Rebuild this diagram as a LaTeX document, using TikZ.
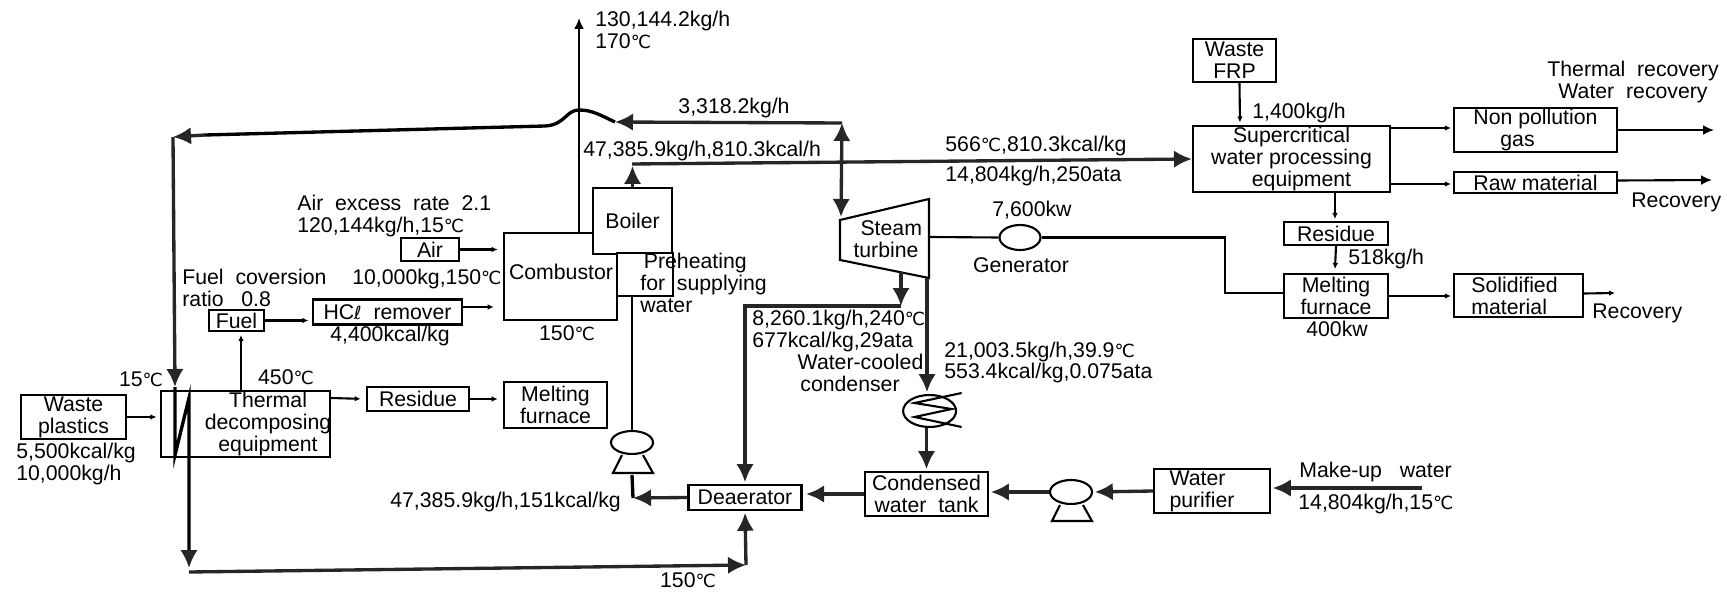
\documentclass[tikz,border=0pt]{standalone}
\usepackage{fontspec}
\setmainfont{Liberation Sans}
\newfontfamily\symbfont{DejaVu Sans}[Scale=0.85]
\newcommand{\degc}{{\symbfont ℃}}
\newcommand{\litre}{{\symbfont ℓ}}
\usetikzlibrary{arrows.meta,positioning,calc,shapes.geometric}

\begin{document}
\begin{tikzpicture}[
    x=0.02cm, y=-0.02cm,
    every node/.style={font=\fontsize{12.1}{12.5}\selectfont},
    box/.style={draw, line width=1.2pt, fill=white, inner sep=0pt, align=center},
    vessel/.style={draw, ellipse, line width=1.2pt, inner sep=0pt},
    lbl/.style={inner sep=0pt, align=left, anchor=west},
    mid/.style={inner sep=0pt, align=center},
    pipe/.style={line width=1.9pt},
    flow/.style={line width=1.2pt},
    bigarr/.style={-{Latex[length=.36cm,width=.35cm]}, pipe, color=black!85},
    midarr/.style={-{Latex[length=.22cm,width=.2cm]}, flow},
    arr/.style={-{Latex[length=.12cm,width=.11cm]}, flow}
]
\useasboundingbox (0,0) rectangle (1727,594);

\node[box, minimum width=2.1cm, minimum height=.88cm] (wasteplastics) at (73.5,417) {Waste\\plastics};
\node[box, minimum width=3.38cm, minimum height=1.32cm] (thermal) at (245.5,424) {};
\node[mid] (thermaltext) at (268,424) {Thermal\\decomposing\\equipment};
\node[box, minimum width=1.1cm, minimum height=.42cm] (fuel) at (236.5,320.5) {Fuel};
\node[box, minimum width=2.98cm, minimum height=.5cm] (hclremover) at (387.5,312) {HC\litre{} \ remover};
\node[box, minimum width=1.16cm, minimum height=.46cm] (air) at (430,249.5) {Air};
\node[box, minimum width=2.26cm, minimum height=1.74cm] (combustor) at (560.5,276.5) {};
\node[mid] (combustortext) at (561,272) {Combustor};
\node[box, minimum width=1.58cm, minimum height=1.32cm] (boiler) at (632.5,221) {Boiler};
\node[box, minimum width=1.12cm, minimum height=.86cm] (preheat) at (645,274.5) {};
\node[lbl] (preheattext) at (640,283) {\hspace*{2pt}Preheating\\for \ supplying\\water};
\node[box, minimum width=2.04cm, minimum height=.48cm] (residuea) at (418,399) {Residue};
\node[box, minimum width=2.06cm, minimum height=.92cm] (meltinga) at (555.5,405) {Melting\\furnace};
\node[box, minimum width=2.26cm, minimum height=.5cm] (deaerator) at (745,497.5) {Deaerator};
\node[box, minimum width=2.46cm, minimum height=.88cm] (tank) at (926.5,494) {Condensed\\water \ tank};
\node[box, minimum width=2.32cm, minimum height=.88cm, align=left] (purifier) at (1212,491) {Water\\purifier\hspace*{.4cm}};
\node[box, minimum width=1.66cm, minimum height=.86cm] (wastefrp) at (1234.5,60.5) {Waste\\FRP};
\node[box, minimum width=3.94cm, minimum height=1.32cm] (supercritical) at (1291.5,159) {Supercritical\\water processing\\\hspace*{.4cm}equipment};
\node[box, minimum width=3.26cm, minimum height=.88cm] (nonpollution) at (1535.5,130) {Non pollution\\gas\hspace*{.72cm}};
\node[box, minimum width=3.26cm, minimum height=.42cm] (rawmaterial) at (1535.5,182.5) {Raw material};
\node[box, minimum width=2.08cm, minimum height=.46cm] (residueb) at (1336,233.5) {Residue};
\node[box, minimum width=2.08cm, minimum height=.88cm] (meltingb) at (1336,296) {Melting\\furnace};
\node[box, minimum width=2.58cm, minimum height=.86cm, align=left] (solidified) at (1518.5,295.5) {Solidified\hspace*{.16cm}\\material};

\node[vessel, minimum width=.84cm, minimum height=.46cm] (pumpa) at (632,442.5) {};
\node[vessel, minimum width=.84cm, minimum height=.48cm] (pumpb) at (1071,492) {};
\node[vessel, minimum width=.82cm, minimum height=.5cm] (generator) at (1020,237.5) {};
\node[vessel, minimum width=1.06cm, minimum height=.64cm] (condenser) at (929.6,411) {};

\draw[box] ($(pumpa.south)+(-10,0)$) -- ($(pumpa.south)+(-19,18)$) -- ($(pumpa.south)+(21,18)$) -- ($(pumpa.south)+(11,0)$);
\draw[box] ($(pumpb.south)+(-11,0)$) -- ($(pumpb.south)+(-19,16)$) -- ($(pumpb.south)+(21,16)$) -- ($(pumpb.south)+(12,0)$);
\draw[flow] ($(condenser)+(32,-18)$) -- ($(condenser)+(-15,-8)$) -- ($(condenser)+(22,-2)$) -- ($(condenser)+(-15,6)$) -- ($(condenser)+(32,16)$);
\draw[box] (840,220) -- (929,199) -- (929,278) -- (840,260) -- cycle;
\node[mid] (turbinetext) at (886,239.5) {\hspace*{6pt}Steam\\turbine};

\coordinate (junction) at (842,123);
\coordinate (stack) at (579,18);
\coordinate (fuelin) at (241,335);
\coordinate (steamtee) at (632,164);
\coordinate (humpend) at (615,122);
\coordinate (returncorner) at (173,137);
\coordinate (coilin) at (175,387);
\coordinate (coilout) at (189,568);
\coordinate (bottomleft) at (189,572);
\coordinate (bottomright) at (746,565);
\coordinate (turbinein) at (841,217);
\coordinate (turbineout) at (901,272);
\coordinate (turbinetee) at (901,306);
\coordinate (turbinecond) at (927,278);
\coordinate (pumpafoot) at (632,475);
\coordinate (pumpaelbow) at (633,498);
\coordinate (makeup) at (1422,488);
\coordinate (genline) at (1225,293);

\draw[midarr] (stack |- combustor.north) -- (stack);
\draw[bigarr] (junction) -- (humpend);
\draw[pipe] (humpend) .. controls (600,115) and (592,110) .. (579,110) .. controls (566,110) and (565,125) .. (545,126) -- (205,135);
\draw[bigarr] (205,135) -- (returncorner);
\draw[bigarr] (returncorner) -- (coilin);
\draw[pipe] (coilin) -- (175,455) -- (189,398) -- (189,555);
\draw[bigarr] (189,550) -- (coilout);
\draw[bigarr] (bottomleft) -- (bottomright);
\draw[bigarr, shorten >=1pt] (bottomright) -- (deaerator.south);
\draw[bigarr] (boiler.north) -- ++(0,-21);
\draw[bigarr] (steamtee) -- (supercritical.west);
\draw[bigarr, {Latex[length=.36cm,width=.35cm]}-{Latex[length=.36cm,width=.35cm]}] (junction) -- (turbinein);
\draw[bigarr] (turbineout) -- (turbinetee);
\draw[bigarr, shorten >=1pt] (turbinetee) -| (deaerator.north);
\draw[bigarr, shorten >=1pt] (turbinecond) -- (turbinecond |- condenser.north);
\draw[bigarr, shorten >=1pt] (tank.north |- condenser.south) -- (tank.north);
\draw[bigarr, shorten >=2pt] (tank.west) -- (tank.west -| deaerator.east);
\draw[bigarr, shorten >=1pt] (pumpb.west) -- (pumpb.west -| tank.east);
\draw[bigarr, shorten >=1pt] (purifier.west) -- (pumpb.east);
\draw[bigarr, shorten >=1pt] (makeup) -- (makeup -| purifier.east);
\draw[pipe] (pumpafoot) -- (pumpaelbow);
\draw[bigarr] (deaerator.west) -- (pumpaelbow);
\draw[line width=1.5pt] (pumpa.north |- preheat.south) -- (pumpa.north);
\draw[flow] (929,237) -- (generator.west);
\draw[flow] (generator.east) -| (genline) -- (genline -| meltingb.west);

\draw[arr, shorten >=2pt] (wasteplastics.east) -- (wasteplastics.east -| thermal.west);
\draw[arr] (fuelin |- thermal.north) -- (fuelin);
\draw[arr, shorten >=2pt] (fuel.east) -- (fuel.east -| hclremover.west);
\draw[arr, shorten >=3pt] (hclremover.east) ++(0,-5) -- (499,307);
\draw[arr, shorten >=3pt] (air.east) -- (air.east -| combustor.west);
\draw[arr, shorten >=3pt] (thermal.east) ++(0,-26) -- (residuea.west);
\draw[arr, shorten >=3pt] (residuea.east) -- (residuea.east -| meltinga.west);
\draw[arr, shorten >=2pt] (wastefrp.south) ++(5,0) -- (1240,126);
\draw[arr] (supercritical.east) ++(0,-31) -- (1451,128);
\draw[arr] (supercritical.east) ++(0,25) -- (1451,184);
\draw[arr] (1335,192) -- (1335,219);
\draw[arr] (residueb.south) -- ++(-1,23);
\draw[arr] (meltingb.east) -- (1451,296);
\draw[midarr] (nonpollution.east) -- (1714,130);
\draw[midarr] (rawmaterial.east) ++(0,-2) -- (1712,180);
\draw[arr] (solidified.east) ++(0,-2) -- (1615,293);

\node[lbl] (lblplastics) at (16,464) {5,500kcal/kg\\10,000kg/h};
\node[mid] (lblcold) at (141,379) {15\degc};
\node[mid] (lblhot) at (286,377) {450\degc};
\node[lbl] (lblconversion) at (182,288) {Fuel \ coversion\\ratio \ \ 0.8};
\node[mid] (lblheatvalue) at (390,336) {4,400kcal/kg};
\node[lbl] (lblair) at (297,216) {Air \ excess \ rate \ 2.1\\120,144kg/h,15\degc};
\node[lbl] (lblchar) at (352,279) {10,000kg,150\degc};
\node[mid] (lblcombustor) at (567,333) {150\degc};
\node[lbl] (lblexhaust) at (595,30) {130,144.2kg/h\\170\degc};
\node[mid] (lblreturn) at (734,108) {3,318.2kg/h};
\node[lbl] (lblboiler) at (583,151) {47,385.9kg/h,810.3kcal/h};
\node[lbl] (lblsteamtop) at (945,146) {566\degc,810.3kcal/kg};
\node[lbl] (lblsteambottom) at (945,176) {14,804kg/h,250ata};
\node[mid] (lblpower) at (1032,210) {7,600kw};
\node[mid] (lblgenerator) at (1021,265) {Generator};
\node[lbl] (lblextract) at (752,331) {8,260.1kg/h,240\degc\\677kcal/kg,29ata};
\node[mid] (lblcondenser) at (850,372.5) {\hspace*{12pt}Water-cooled\\condenser};
\node[lbl] (lblexit) at (944,362.5) {21,003.5kg/h,39.9\degc\\553.4kcal/kg,0.075ata};
\node[lbl] (lblfeed) at (390,502) {47,385.9kg/h,151kcal/kg};
\node[mid] (lblbottom) at (688,580) {150\degc};
\node[lbl] (lblmakeup) at (1299,472) {Make-up \ \ water};
\node[lbl] (lblmakeupflow) at (1298,504) {14,804kg/h,15\degc};
\node[lbl] (lblfrp) at (1252,113) {1,400kg/h};
\node[mid] (lbloutgas) at (1633,82) {Thermal \ recovery\\Water \ recovery};
\node[lbl] (lblrecoverya) at (1631,202) {Recovery};
\node[lbl] (lblresidue) at (1348,259) {518kg/h};
\node[mid] (lblmelting) at (1337,329) {400kw};
\node[lbl] (lblrecoveryb) at (1592,313) {Recovery};
\end{tikzpicture}
\end{document}
